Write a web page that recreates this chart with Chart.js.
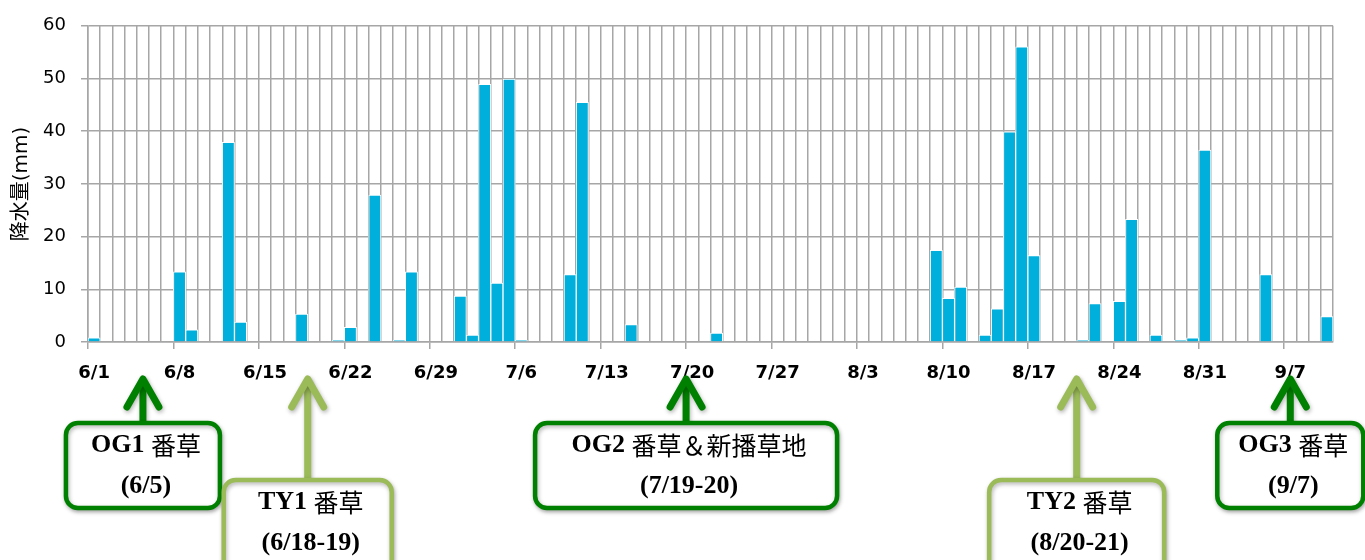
<!DOCTYPE html>
<html lang="ja">
<head>
  <meta charset="UTF-8">
  <title>降水量</title>
  <script src="https://cdn.jsdelivr.net/npm/chart.js"></script>
  <style>
    body { margin: 0; background: #fff; }
    .container { position: relative; width: 1365px; height: 560px; }
  </style>
</head>
<body>
  <div class="container">
    <canvas id="myChart"></canvas>
  </div>
  <script>
    // days of each month shown (6/1 - 9/10)
    const months = [6, 7, 8, 9];
    const monthDays = [30, 31, 31, 10];

    // daily rainfall (mm), one value per day from 6/1
    const rainfall = [
      0.8, 0, 0, 0, 0, 0, 0, 13.3, 2.3, 0,          // 6/1 - 6/10
      0, 37.9, 3.8, 0, 0, 0, 0, 5.3, 0, 0,           // 6/11 - 6/20
      0.3, 2.8, 0, 27.9, 0, 0.3, 13.3, 0, 0, 0,      // 6/21 - 6/30
      8.7, 1.3, 48.9, 11.2, 49.9, 0.3, 0, 0, 0, 12.8, // 7/1 - 7/10
      45.5, 0, 0, 0, 3.3, 0, 0, 0, 0, 0,             // 7/11 - 7/20
      0, 1.7, 0, 0, 0, 0, 0, 0, 0, 0,                // 7/21 - 7/30
      0, 0, 0, 0, 0, 0, 0, 0, 0, 17.4,               // 7/31 - 8/9
      8.3, 10.4, 0, 1.3, 6.3, 39.9, 56.0, 16.4, 0, 0, // 8/10 - 8/19
      0, 0.3, 7.3, 0, 7.7, 23.3, 0, 1.3, 0, 0.3,     // 8/20 - 8/29
      0.8, 36.4, 0, 0, 0, 0, 12.8, 0, 0, 0,          // 8/30 - 9/8
      0, 4.8                                          // 9/9 - 9/10
    ];

    const yTicks = [0, 10, 20, 30, 40, 50, 60];

    // harvest / cutting notes under the axis
    const markText = ['OG1 番草', 'TY1 番草', 'OG2 番草＆新播草地', 'TY2 番草', 'OG3 番草'];
    const markDate = ['(6/5)', '(6/18-19)', '(7/19-20)', '(8/20-21)', '(9/7)'];
    const markFrom = ['6/5', '6/18', '7/19', '8/20', '9/7'];
    const markTo = ['6/5', '6/19', '7/20', '8/21', '9/7'];
    const markType = ['OG', 'TY', 'OG', 'TY', 'OG'];

    const labels = [];
    months.forEach((m, i) => {
      for (let d = 1; d <= monthDays[i]; d++) labels.push(m + '/' + d);
    });

    const gridColor = '#a6a6a6';
    const boxStyle = {
      OG: { color: '#008000', top: 423, bottom: 508 },
      TY: { color: '#9bbb59', top: 480, bottom: 578 }
    };
    const boxWidth = [154, 168, 302, 175, 146];

    const latinFont = 'bold 26px "Liberation Serif"';
    const cjkFont = '25px "Noto Sans CJK JP"';

    // latin runs in bold serif, kanji in a lighter face
    function drawMixed(ctx, text, cx, cy) {
      const runs = text.match(/[\x00-\x7f]+|[^\x00-\x7f]+/g);
      let total = 0;
      const widths = runs.map(r => {
        ctx.font = /[^\x00-\x7f]/.test(r) ? cjkFont : latinFont;
        const w = ctx.measureText(r).width;
        total += w;
        return w;
      });
      let x = cx - total / 2;
      ctx.textAlign = 'left';
      runs.forEach((r, i) => {
        ctx.font = /[^\x00-\x7f]/.test(r) ? cjkFont : latinFont;
        ctx.fillText(r, x, cy);
        x += widths[i];
      });
    }

    const notesPlugin = {
      id: 'notes',
      afterDraw(chart) {
        const ctx = chart.ctx;
        const x = chart.scales.x;
        ctx.save();
        markText.forEach((txt, i) => {
          const st = boxStyle[markType[i]];
          const cx = (x.getPixelForValue(labels.indexOf(markFrom[i])) +
                      x.getPixelForValue(labels.indexOf(markTo[i]))) / 2;
          const tip = 377;
          ctx.shadowColor = 'rgba(0,0,0,0.3)';
          ctx.shadowBlur = 4;
          ctx.shadowOffsetX = 1;
          ctx.shadowOffsetY = 2;
          ctx.strokeStyle = st.color;
          ctx.lineCap = 'round';
          ctx.lineJoin = 'round';
          // shaft
          ctx.lineWidth = 7;
          ctx.beginPath();
          ctx.moveTo(cx, tip + 4);
          ctx.lineTo(cx, st.top);
          ctx.stroke();
          // head
          ctx.beginPath();
          ctx.moveTo(cx - 16, tip + 30);
          ctx.lineTo(cx, tip + 2);
          ctx.lineTo(cx + 16, tip + 30);
          ctx.stroke();
          // box
          const w = boxWidth[i];
          ctx.lineWidth = 4.5;
          ctx.fillStyle = '#fff';
          ctx.beginPath();
          ctx.roundRect(cx - w / 2, st.top, w, st.bottom - st.top, 12);
          ctx.fill();
          ctx.stroke();
          ctx.shadowColor = 'rgba(0,0,0,0)';
          // text
          ctx.fillStyle = '#000';
          ctx.textBaseline = 'middle';
          drawMixed(ctx, txt, cx + 3, st.top + 22);
          drawMixed(ctx, markDate[i], cx + 3, st.top + 63);
        });
        ctx.restore();
      }
    };

    const ctx = document.getElementById('myChart').getContext('2d');
    const myChart = new Chart(ctx, {
      type: 'bar',
      data: {
        labels: labels,
        datasets: [{
          label: '降水量',
          data: rainfall,
          backgroundColor: '#00afdb',
          borderColor: '#ffffff',
          borderWidth: 1,
          barPercentage: 1,
          categoryPercentage: 1
        }]
      },
      options: {
        responsive: true,
        maintainAspectRatio: false,
        animation: false,
        layout: { padding: { top: 21, right: 32, left: 0, bottom: 0 } },
        plugins: {
          legend: { display: false },
          tooltip: { enabled: false }
        },
        scales: {
          x: {
            afterFit: (scale) => { scale.height = 218; },
            grid: {
              color: gridColor,
              lineWidth: 1.5,
              offset: true,
              tickLength: 7,
              tickColor: (c) => (c.index % 7 === 0 ? gridColor : 'rgba(0,0,0,0)')
            },
            border: { color: gridColor, width: 1.5 },
            ticks: {
              autoSkip: false,
              maxRotation: 0,
              padding: 14,
              color: '#000',
              font: { family: 'DejaVu Sans', size: 18, weight: 'bold' },
              callback: (v, i) => (i % 7 === 0 ? labels[i] : '')
            }
          },
          y: {
            min: 0,
            max: 60,
            afterFit: (scale) => { scale.width = 88; },
            afterBuildTicks: (scale) => { scale.ticks = yTicks.map(v => ({ value: v })); },
            grid: { color: gridColor, lineWidth: 1.5, tickLength: 7 },
            border: { color: gridColor, width: 1.5 },
            ticks: {
              padding: 15,
              color: '#000',
              font: { family: 'DejaVu Sans', size: 18 }
            },
            title: {
              display: true,
              text: '降水量(mm)',
              color: '#000',
              padding: { top: 10, bottom: 0 },
              font: { family: '"DejaVu Sans", "Noto Sans CJK JP"', size: 20 }
            }
          }
        }
      },
      plugins: [notesPlugin]
    });
  </script>
</body>
</html>
